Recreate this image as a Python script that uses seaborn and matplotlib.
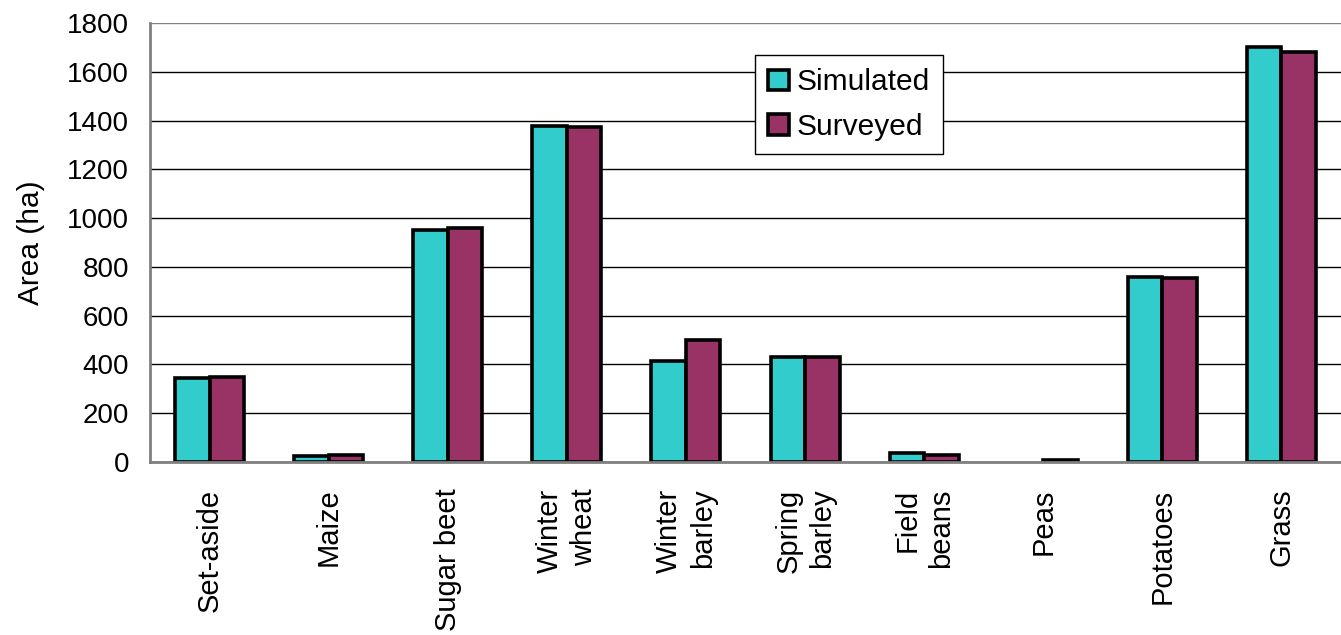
import numpy as np
import pandas as pd
import seaborn as sns
import matplotlib
matplotlib.use('Agg')
import matplotlib.pyplot as plt
from matplotlib.patches import Patch

# Data
crops = ['Set-aside', 'Maize', 'Sugar beet', 'Winter\nwheat', 'Winter\nbarley',
         'Spring\nbarley', 'Field\nbeans', 'Peas', 'Potatoes', 'Grass']
simulated = [345, 25, 950, 1378, 414, 432, 35, 0, 760, 1700]
surveyed = [350, 30, 958, 1373, 500, 430, 30, 8, 755, 1681]
series = ['Simulated', 'Surveyed']
colors = ['#33CCCC', '#993366']

df = pd.DataFrame({
    'crop': crops * 2,
    'area': simulated + surveyed,
    'series': [series[0]] * len(crops) + [series[1]] * len(crops),
})

sns.set_style('white')
plt.rcParams['font.family'] = ['Liberation Sans', 'DejaVu Sans']
plt.rcParams['text.color'] = 'black'
plt.rcParams['axes.labelcolor'] = 'black'

fig = plt.figure(figsize=(13.41, 6.35), dpi=100)
ax = fig.add_axes([150 / 1341, 173 / 635, 1191 / 1341, 439 / 635])

sns.barplot(data=df, x='crop', y='area', hue='series', palette=colors,
            width=0.58, saturation=1, edgecolor='black', linewidth=2.6,
            legend=False, ax=ax)

# zero-height bars are not drawn in the original
for p in ax.patches:
    if p.get_height() == 0:
        p.set_linewidth(0)

ax.set_xlim(-0.5, 9.375)
ax.set_ylim(0, 1800)
ax.set_yticks(np.arange(0, 1801, 200))
ax.set_axisbelow(True)
ax.yaxis.grid(True, color='black', linewidth=1.0)
ax.xaxis.grid(False)
ax.get_ygridlines()[-1].set_color('#808080')

for side in ['top', 'right']:
    ax.spines[side].set_visible(False)
for side in ['left', 'bottom']:
    ax.spines[side].set_color('#808080')
    ax.spines[side].set_linewidth(2)
    ax.spines[side].set_zorder(5)

# category separators as minor ticks
ax.set_xticks(np.arange(-0.5, 10, 1), minor=True)
ax.tick_params(axis='x', which='minor', length=6, width=1.2, color='#444444', direction='out')
ax.tick_params(axis='x', which='major', length=0, pad=19, labelcolor='black')
ax.tick_params(axis='y', length=6, width=1.2, color='#444444', direction='out', pad=9,
               labelsize=20, labelcolor='black')
ax.set_xticks(range(len(crops)))
ax.set_xticklabels(crops, rotation=90, fontsize=21, va='top', ha='center',
                   multialignment='right', linespacing=1.25)

ax.set_xlabel('')
ax.set_ylabel('Area (ha)', fontsize=21.5, labelpad=16)

handles = [Patch(facecolor=c, edgecolor='black', linewidth=2.6) for c in colors]
leg = ax.legend(handles, series, loc='upper left',
                bbox_to_anchor=(755 / 1341, 1 - 55 / 635), bbox_transform=fig.transFigure,
                fontsize=21.5, frameon=True, fancybox=False, framealpha=1,
                edgecolor='black', handlelength=0.7, handleheight=0.7,
                handletextpad=0.25, borderpad=0.45, labelspacing=0.55, borderaxespad=0)
leg.get_frame().set_linewidth(1.0)

fig.savefig('out.png', dpi=100)
